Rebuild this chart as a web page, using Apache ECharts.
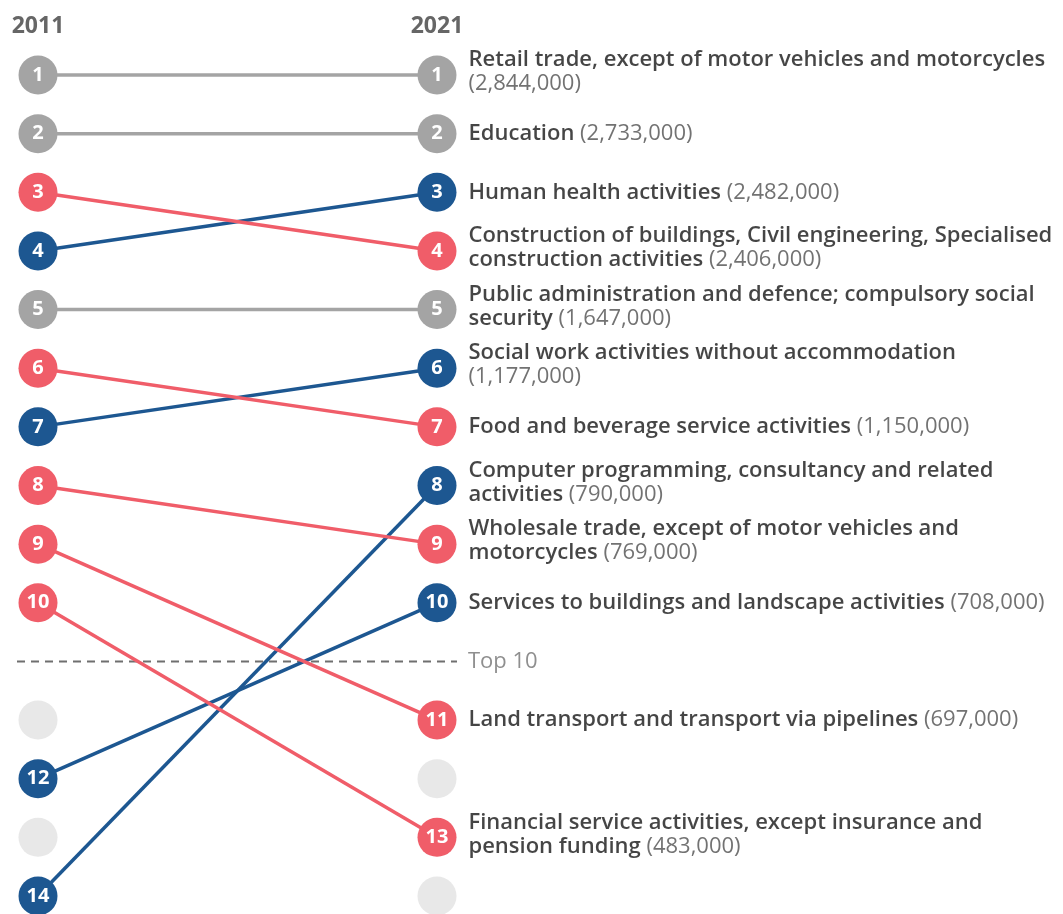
<!DOCTYPE html>
<html>
<head>
<meta charset="utf-8">
<script src="https://cdn.jsdelivr.net/npm/echarts@6/dist/echarts.min.js"></script>
<style>
html,body{margin:0;padding:0;background:#fff;}
#chart{width:1063px;height:914px;}
</style>
</head>
<body>
<div id="chart"></div>
<script>
// ---- data ----
const years = ['2011', '2021'];
const industries = [
  'Retail trade, except of motor vehicles and motorcycles\n',
  'Education',
  'Human health activities',
  'Construction of buildings, Civil engineering, Specialised\nconstruction activities',
  'Public administration and defence; compulsory social\nsecurity',
  'Social work activities without accommodation\n',
  'Food and beverage service activities',
  'Computer programming, consultancy and related\nactivities',
  'Wholesale trade, except of motor vehicles and\nmotorcycles',
  'Services to buildings and landscape activities',
  'Land transport and transport via pipelines',
  'Financial service activities, except insurance and\npension funding'
];
const rank2011 = [1, 2, 4, 3, 5, 7, 6, 14, 8, 12, 9, 10];
const rank2021 = [1, 2, 3, 4, 5, 6, 7, 8, 9, 10, 11, 13];
const employment2021 = [2844000, 2733000, 2482000, 2406000, 1647000, 1177000, 1150000, 790000, 769000, 708000, 697000, 483000];
const emptyRanks2011 = [11, 13];
const emptyRanks2021 = [12, 14];
const topN = 10;
const topLabel = 'Top 10';

// ---- styles ----
const GREY = '#a4a4a4', RED = '#f05d69', BLUE = '#1d5791', EMPTY = '#e2e2e2';
const FONT = '"Open Sans", "Noto Sans", sans-serif';
const slot = r => (r <= topN ? r : r + 1);
const colorFor = i => rank2021[i] < rank2011[i] ? BLUE : (rank2021[i] > rank2011[i] ? RED : GREY);
const fmt = v => v.toLocaleString('en-US');

const series = [];

// Top-10 separator (own wider grid/axis)
series.push({
  type: 'line',
  xAxisIndex: 1, yAxisIndex: 1,
  data: [[0, slot(topN) + 1], [1, slot(topN) + 1]],
  symbol: 'none',
  silent: true,
  clip: false,
  lineStyle: { color: '#6f6f6f', width: 2, type: [8, 6] },
  endLabel: { show: true, formatter: topLabel, distance: 11, color: '#8f8f8f', fontSize: 22, fontFamily: FONT },
  z: 1
});

// empty grey circles
series.push({
  type: 'scatter',
  data: emptyRanks2011.map(r => [0, slot(r)]).concat(emptyRanks2021.map(r => [1, slot(r)])),
  symbolSize: 39,
  itemStyle: { color: EMPTY },
  silent: true,
  clip: false,
  z: 2
});

// slope lines
industries.forEach((name, i) => {
  const c = colorFor(i);
  series.push({
    type: 'line',
    data: [[0, slot(rank2011[i]), rank2011[i]], [1, slot(rank2021[i]), rank2021[i]]],
    symbol: 'circle',
    symbolSize: 39,
    showAllSymbol: true,
    clip: false,
    silent: true,
    itemStyle: { color: c, opacity: 1 },
    lineStyle: { color: c, width: 3.5 },
    label: {
      show: true,
      position: 'inside',
      formatter: p => String(p.value[2]),
      color: '#fff',
      fontWeight: 'bold',
      fontSize: 20,
      fontFamily: FONT
    },
    z: 3
  });
});

// right-hand text labels
series.push({
  type: 'scatter',
  data: industries.map((name, i) => {
    const lines = name.split('\n');
    const parts = lines.map(l => (l ? '{n|' + l + '}' : ''));
    const last = parts.length - 1;
    const val = '(' + fmt(employment2021[i]) + ')';
    parts[last] = parts[last] ? parts[last] + '{v| ' + val + '}' : '{v|' + val + '}';
    return {
      value: [1, slot(rank2021[i])],
      label: { formatter: parts.join('\n'), offset: [0, lines.length > 1 ? -3 : 0] }
    };
  }),
  symbolSize: 1,
  itemStyle: { color: 'transparent' },
  silent: true,
  clip: false,
  label: {
    show: true,
    position: 'right',
    distance: 31,
    align: 'left',
    verticalAlign: 'middle',
    fontFamily: FONT,
    rich: {
      n: { fontFamily: FONT, fontSize: 22, fontWeight: 600, color: '#161616', lineHeight: 24 },
      v: { fontFamily: FONT, fontSize: 22, fontWeight: 400, color: '#4f4f4f', lineHeight: 24 }
    }
  },
  z: 4
});

const chart = echarts.init(document.getElementById('chart'), null, { renderer: 'canvas' });
chart.setOption({
  animation: false,
  backgroundColor: '#fff',
  grid: [
    { left: 38, width: 399, top: 75, bottom: 18, containLabel: false },
    { left: 17, width: 440, top: 75, bottom: 18, containLabel: false }
  ],
  xAxis: [{
    type: 'value', min: 0, max: 1, interval: 1, position: 'top', gridIndex: 0,
    axisLine: { show: false }, axisTick: { show: false }, splitLine: { show: false },
    axisLabel: {
      formatter: v => years[v] || '',
      color: '#666', fontWeight: 'bold', fontSize: 23, fontFamily: FONT, margin: 37
    }
  }, {
    type: 'value', min: 0, max: 1, gridIndex: 1, show: false
  }],
  yAxis: [
    { type: 'value', inverse: true, min: 1, max: slot(14), show: false, gridIndex: 0 },
    { type: 'value', inverse: true, min: 1, max: slot(14), show: false, gridIndex: 1 }
  ],
  series: series
});
</script>
</body>
</html>
